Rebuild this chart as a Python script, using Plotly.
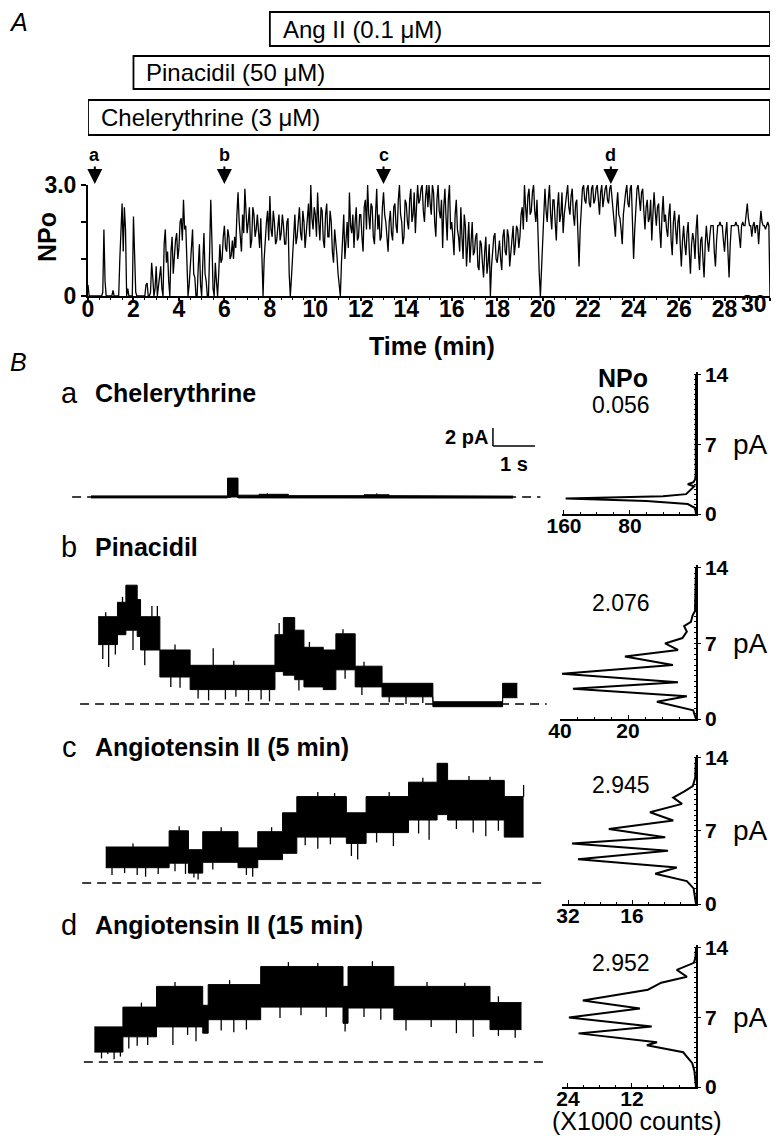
import plotly.graph_objects as go

W, H = 781, 1146
OFF = 8                          # page body margin of the browser
FW, FH = W - OFF, H - 2 * OFF    # figure size so the page fits the window
FONT = "Liberation Sans, Arial, sans-serif"

# ---------------- Panel A: NPo vs time (min) ----------------
# readings at whole tenths of a minute (t = 0.0, 0.1, ... 30.0)
npo_values = [
    0.3, 0, 0, 0, 0, 0, 0, 1.8, 0, 0,
    0, 0.15, 0, 0, 1.0, 2.5, 2.4, 0, 0, 0,
    2.15, 0.1, 0, 0, 0, 0, 0.35, 0, 0.9, 0,
    0.8, 0.3, 0.8, 0, 1.8, 1.2, 0, 1.6, 1.1, 1.7,
    1.3, 2.1, 2.6, 1.9, 0, 0.8, 1.8, 0.5, 0, 1.4,
    0, 1.7, 0.4, 0, 2.6, 0.2, 0.9, 0, 1.4, 1.0,
    1.9, 1.2, 1.6, 1.1, 1.0, 1.3, 2.8, 1.6, 2.2, 2.9,
    1.7, 2.4, 1.5, 2.2, 1.8, 1.6, 2.1, 0, 1.6, 2.3,
    2.7, 1.6, 2.0, 1.5, 2.2, 1.7, 1.9, 1.4, 2.1, 0,
    1.2, 2.2, 1.6, 2.4, 1.5, 2.0, 1.7, 2.5, 3.0, 1.8,
    2.2, 2.8, 1.5, 2.3, 1.3, 2.5, 1.6, 2.0, 0.9, 1.5,
    0.6, 0, 1.4, 1.0, 2.0, 2.8, 1.7, 1.3, 2.4, 1.6,
    2.2, 1.2, 2.6, 3.0, 1.8, 2.4, 1.4, 2.9, 2.2, 1.6,
    2.8, 2.0, 1.2, 2.3, 1.5, 2.5, 1.7, 3.0, 2.0, 1.6,
    2.5, 1.8, 2.9, 2.2, 1.7, 3.0, 2.6, 3.0, 2.0, 3.0,
    3.0, 2.2, 2.8, 1.6, 3.0, 2.1, 1.3, 2.9, 1.5, 3.0,
    2.0, 1.1, 2.6, 1.6, 2.4, 1.0, 1.9, 1.3, 0.9, 2.0,
    1.2, 1.7, 0.7, 1.4, 0.5, 1.6, 0.9, 0, 1.2, 1.7,
    0.9, 1.5, 0.7, 1.8, 1.1, 1.6, 1.2, 1.9, 1.4, 1.8,
    1.6, 2.4, 3.0, 2.0, 2.9, 2.3, 3.0, 2.0, 1.3, 0,
    1.6, 2.9, 2.0, 3.0, 1.8, 2.6, 1.5, 2.8, 2.2, 1.7,
    2.5, 3.0, 2.2, 2.9, 1.9, 2.6, 0.8, 2.4, 3.0, 2.5,
    3.0, 2.4, 3.0, 2.6, 3.0, 2.2, 3.0, 2.7, 3.0, 2.5,
    3.0, 2.3, 1.6, 2.8, 2.1, 1.4, 2.6, 3.0, 2.4, 3.0,
    1.0, 2.6, 3.0, 2.3, 2.9, 1.8, 2.6, 2.1, 1.5, 2.8,
    1.9, 2.5, 1.3, 2.7, 2.2, 1.6, 2.5, 1.1, 2.3, 1.4,
    2.2, 0.8, 1.9, 1.1, 2.0, 0.6, 1.7, 1.0, 2.2, 0.7,
    1.6, 0.5, 1.9, 1.2, 1.9, 1.9, 0.8, 1.9, 2.0, 1.9,
    1.2, 2.0, 0.5, 1.9, 1.9, 2.0, 1.9, 1.3, 2.0, 1.9,
    2.5, 1.9, 1.6, 2.0, 1.9, 1.4, 2.3, 1.9, 1.8, 2.0,
    0,
]
# readings between them (t = 0.05, 0.15, ... 29.95)
npo_half_values = [
    0, 0, 0, 0, 0, 0, 0.1, 0.4, 0, 0,
    0, 0, 0, 0, 2.0, 1.2, 1.8, 0.2, 0, 0,
    1.0, 0, 0, 0, 0, 0.3, 0, 0.1, 0.5, 0.2,
    0, 0.6, 0.2, 1.4, 0.9, 0.4, 1.2, 0.6, 1.5, 1.0,
    2.0, 1.5, 1.8, 0.9, 0.3, 1.4, 0.6, 0, 0.8, 0.3,
    0.9, 0.6, 0, 1.2, 1.5, 0, 0.4, 0.6, 0.9, 1.6,
    1.3, 1.8, 1.0, 1.5, 1.6, 2.2, 2.0, 1.2, 1.7, 2.1,
    2.0, 1.3, 2.4, 1.6, 2.2, 1.3, 0.8, 1.0, 2.0, 1.5,
    1.8, 2.3, 1.4, 2.0, 1.5, 2.2, 1.4, 2.0, 0.6, 0.5,
    1.8, 1.4, 2.0, 1.7, 2.3, 1.3, 2.2, 1.6, 2.1, 2.4,
    1.6, 2.0, 2.4, 1.5, 2.2, 1.6, 2.3, 1.2, 1.8, 1.1,
    0.3, 0.9, 2.2, 1.6, 1.3, 1.9, 2.2, 2.0, 1.5, 2.2,
    1.6, 2.4, 1.8, 2.2, 2.5, 1.6, 2.2, 1.8, 1.5, 2.4,
    2.2, 1.6, 2.0, 1.7, 2.4, 1.9, 2.6, 2.2, 1.4, 2.6,
    2.0, 2.6, 2.0, 2.8, 2.4, 2.5, 2.9, 2.3, 2.7, 2.4,
    2.5, 3.0, 2.0, 2.6, 2.3, 2.6, 2.4, 2.1, 2.6, 1.8,
    1.6, 2.2, 1.8, 1.2, 1.6, 2.2, 0.8, 2.0, 1.5, 1.1,
    1.6, 0.8, 1.5, 0.9, 1.2, 0.6, 1.4, 0.8, 1.6, 1.0,
    1.3, 1.0, 1.6, 1.2, 1.8, 0.8, 1.7, 1.1, 1.9, 1.3,
    2.2, 1.8, 2.4, 2.7, 2.2, 2.8, 2.3, 2.6, 0.6, 0.8,
    2.2, 2.3, 2.6, 2.2, 2.6, 2.0, 2.4, 2.0, 2.8, 2.2,
    2.8, 2.4, 2.7, 2.2, 2.5, 1.7, 1.8, 2.9, 2.6, 2.9,
    2.5, 2.9, 2.5, 2.9, 2.6, 2.8, 2.4, 2.9, 2.6, 2.9,
    2.6, 2.0, 2.4, 2.2, 1.8, 2.2, 2.8, 2.5, 2.9, 2.0,
    1.8, 2.9, 2.5, 2.8, 2.3, 2.4, 2.0, 2.6, 2.2, 2.3,
    2.4, 1.8, 2.2, 2.0, 1.8, 2.2, 1.5, 2.0, 1.8, 2.0,
    1.4, 1.5, 1.4, 1.7, 1.2, 1.4, 1.5, 1.8, 1.2, 1.5,
    1.0, 1.4, 1.5, 1.6, 1.9, 1.2, 1.5, 1.9, 1.9, 1.5,
    1.7, 1.2, 1.4, 1.9, 1.9, 1.9, 1.5, 1.9, 1.9, 2.2,
    2.1, 1.9, 1.9, 1.7, 1.9, 1.9, 2.0, 1.9, 1.9, 1.9,
]
x_ticks_min = list(range(0, 31, 2))

drug_names = ["Chelerythrine (3 \u03bcM)", "Pinacidil (50 \u03bcM)", "Ang II (0.1 \u03bcM)"]
drug_start = [0.0, 2.0, 8.0]
drug_end = 30.0

sample_labels = ["a", "b", "c", "d"]
sample_times = [0.3, 6.0, 13.0, 23.0]

# ---------------- Panel B: current traces (time s, current pA) ----------------
a_seg_t = [0.5, 3.75, 4.0, 4.5, 5.2, 7.0, 7.6, 9.5]
a_end = 10.55
a_hi = [0.12, 2.1, 0.2, 0.3, 0.15, 0.25, 0.15, 0.1]
a_lo = [-0.1, 0.0, -0.1, -0.05, -0.12, -0.05, -0.12, -0.12]
a_dn = []
a_up = [(4.7, 0.4), (7.3, 0.4)]

b_seg_t = [0.67, 1.13, 1.33, 1.60, 1.68, 2.14, 2.86, 4.88, 5.08, 5.35, 5.57, 6.03, 6.33, 6.79, 7.43, 8.64, 10.30]
b_end = 10.65
b_hi = [9.7, 11.3, 13.2, 11.6, 9.7, 6.0, 4.3, 7.7, 9.6, 8.2, 6.3, 6.0, 7.8, 4.2, 2.3, 0.25, 2.3]
b_lo = [6.6, 7.7, 8.2, 7.5, 6.0, 3.0, 1.6, 3.6, 3.2, 2.7, 1.9, 1.6, 3.8, 1.9, 0.8, -0.3, 0.7]
b_dn = [(0.78, 5.0), (0.92, 4.1), (1.08, 5.5), (1.50, 6.0), (1.78, 4.3), (2.40, 1.9), (2.62, 1.8),
        (3.05, 0.6), (3.30, 0.4), (3.70, 0.5), (3.95, 0.8), (4.25, 0.3), (4.55, 0.5), (4.75, 0.3),
        (5.45, 1.5), (6.55, 2.8), (6.95, 1.0), (7.60, 0.2), (8.0, 0.0), (8.4, 0.1)]
b_up = [(0.85, 10.2), (1.25, 11.9), (1.95, 10.9), (2.08, 10.9), (2.5, 6.6), (3.41, 6.2), (3.9, 4.8),
        (4.98, 9.0), (5.7, 6.9), (6.5, 8.3), (7.0, 4.7)]

c_seg_t = [0.85, 2.36, 2.82, 3.16, 4.00, 4.47, 5.06, 5.40, 6.58, 7.05, 8.06, 8.74, 8.99, 10.34]
c_end = 10.80
c_hi = [4.0, 5.8, 3.7, 5.7, 3.9, 5.7, 7.8, 9.6, 7.8, 9.6, 11.2, 13.3, 11.4, 9.6]
c_lo = [1.7, 2.2, 1.1, 2.3, 1.7, 2.6, 3.3, 5.1, 4.4, 5.6, 7.0, 7.6, 7.0, 5.1]
c_dn = [(1.0, 0.9), (1.3, 1.1), (1.6, 0.9), (1.8, 0.7), (2.1, 1.0), (2.5, 1.3), (2.75, 1.0),
        (2.95, 0.6), (3.05, 0.4), (3.4, 1.5), (4.2, 0.9), (4.35, 0.7), (5.6, 4.2), (5.9, 3.8),
        (6.2, 4.3), (6.7, 3.0), (6.85, 2.6), (7.3, 4.5), (7.7, 4.1), (8.3, 5.5), (8.55, 4.8),
        (9.2, 6.0), (9.6, 5.6), (9.9, 5.2), (10.2, 5.8)]
c_up = [(1.5, 4.4), (2.6, 6.3), (3.6, 6.2), (4.8, 6.2), (5.9, 10.1), (6.3, 10.0), (7.6, 10.1),
        (8.4, 11.7), (9.5, 11.9), (10.0, 11.8), (10.80, 10.9)]

d_seg_t = [0.58, 1.26, 2.06, 3.16, 3.29, 4.54, 6.50, 6.62, 7.71, 10.00]
d_end = 10.75
d_hi = [3.9, 6.1, 8.4, 6.3, 8.6, 10.6, 8.4, 10.6, 8.4, 6.6]
d_lo = [1.1, 2.8, 3.9, 3.2, 4.7, 6.1, 4.3, 6.0, 4.7, 3.6]
d_dn = [(0.75, 0.4), (0.9, 0.9), (1.05, 0.3), (1.2, 0.6), (1.4, 1.5), (1.6, 1.8), (1.85, 1.9),
        (2.45, 1.9), (2.8, 3.0), (3.0, 2.3), (3.6, 3.5), (3.9, 3.3), (4.2, 3.6), (5.0, 4.9),
        (5.5, 5.2), (6.1, 5.0), (6.55, 3.4), (7.0, 5.0), (7.4, 4.7), (8.0, 3.5), (8.6, 3.9),
        (9.2, 3.2), (9.6, 2.8), (10.2, 2.9), (10.6, 2.7)]
d_up = [(1.7, 6.6), (2.5, 8.9), (3.8, 9.1), (5.2, 11.1), (5.9, 11.0), (7.2, 11.2), (8.5, 8.9),
        (9.4, 8.8), (10.2, 7.3)]

trace_titles = ["Chelerythrine", "Pinacidil", "Angiotensin II (5 min)", "Angiotensin II (15 min)"]
dash_start = [0.05, 0.24, 0.29, 0.33]
dash_end = [11.2, 11.35, 11.35, 11.35]

# ---------------- Panel B: amplitude histograms (pA vs x1000 counts) ----------------
hist_a_pa = [0, 0.6, 1.0, 1.3, 1.55, 1.8, 2.0, 2.5, 2.8, 3.0, 3.2, 3.5, 4.0, 14]
hist_a_cnt = [0, 1, 10, 60, 158, 40, 12, 6, 2, 10, 3, 1, 0.3, 0]
hist_b_pa = [0, 0.8, 1.6, 2.1, 2.8, 3.4, 4.2, 5.0, 5.8, 6.4, 7.0, 7.5, 8.1, 8.6, 9.0, 9.6, 10.0, 14]
hist_b_cnt = [0, 0.8, 11.5, 2.7, 36.2, 5.3, 39.4, 6.8, 20.9, 5.3, 9.1, 4, 2.7, 3.5, 1.5, 1.0, 0.3, 0]
hist_c_pa = [0, 1.5, 2.2, 2.9, 3.5, 4.3, 5.1, 5.8, 6.4, 7.2, 8.0, 8.8, 9.6, 10.2, 10.8, 11.3, 12.1, 14]
hist_c_cnt = [0, 0.6, 2.3, 10.2, 4.8, 29.5, 7.0, 31, 7.7, 21.8, 5.7, 11.5, 3.5, 5.7, 2.9, 0.8, 0.2, 0]
hist_d_pa = [0, 1.6, 2.4, 3.5, 4.2, 4.5, 5.4, 6.1, 7.0, 7.9, 8.7, 9.8, 10.5, 11.1, 11.8, 12.5, 13, 14]
hist_d_cnt = [0, 0.3, 0.7, 2.4, 9.2, 7.3, 22, 8.3, 23.8, 10.5, 21.2, 9.0, 6.5, 1.7, 3.6, 0.4, 0.1, 0]

npo_text = ["0.056", "2.076", "2.945", "2.952"]
hist_xticks = [[160, 80], [40, 20], [32, 16], [24, 12]]
hist_pa_ticks = [0, 7, 14]


# ---------------- layout geometry (window pixels) ----------------
def xp(px):
    return (px - OFF) / FW


def yp(py):
    return 1 - (py - OFF) / FH


T0_PX, PX_PER_S, PX_PER_PA = 70, 42, 9
TR_X_DOM = (60, 560)
tr_base = [497, 704, 883, 1062]
tr_top = [420, 575, 755, 955]
tr_bot = [512, 715, 895, 1075]
label_y = [393, 547, 747, 925]

hist_left = [562, 560, 562, 562]
hist_xmax = [162.4, 40.0, 33.5, 25.1]
hist_zero = [514, 719, 904, 1087]
hist_pxpa = [9.93, 10.79, 10.43, 9.93]
HIST_YMAX = 14.3

fig = go.Figure()

# interleave the two reading series in time order
npo_t, npo_y = [], []
for i, v in enumerate(npo_values):
    npo_t.append(round(i * 0.1, 2))
    npo_y.append(v)
    if i < len(npo_half_values):
        npo_t.append(round(i * 0.1 + 0.05, 2))
        npo_y.append(npo_half_values[i])

fig.add_trace(go.Scatter(x=npo_t, y=npo_y, mode="lines",
                         line=dict(color="black", width=1.3),
                         xaxis="x", yaxis="y", hoverinfo="skip"))


def step_xy(seg_t, end, vals):
    xs, ys = [], []
    bounds = list(seg_t[1:]) + [end]
    for t0, t1, v in zip(seg_t, bounds, vals):
        xs += [t0, t1]
        ys += [v, v]
    return xs, ys


def level_at(seg_t, vals, t):
    idx = 0
    for i, s in enumerate(seg_t):
        if s <= t:
            idx = i
    return vals[idx]


traces_B = [
    (a_seg_t, a_end, a_hi, a_lo, a_dn, a_up),
    (b_seg_t, b_end, b_hi, b_lo, b_dn, b_up),
    (c_seg_t, c_end, c_hi, c_lo, c_dn, c_up),
    (d_seg_t, d_end, d_hi, d_lo, d_dn, d_up),
]
hists = [(hist_a_pa, hist_a_cnt), (hist_b_pa, hist_b_cnt), (hist_c_pa, hist_c_cnt), (hist_d_pa, hist_d_cnt)]

layout_axes = {}
for i, (seg_t, end, hi, lo, dn, up) in enumerate(traces_B):
    n = i + 2
    xa, ya = f"x{n}", f"y{n}"
    fig.add_trace(go.Scatter(x=[dash_start[i], dash_end[i]], y=[0, 0], mode="lines",
                             line=dict(color="black", width=1.5, dash="9px,6px"),
                             xaxis=xa, yaxis=ya, hoverinfo="skip"))
    xl, yl = step_xy(seg_t, end, lo)
    xh, yh = step_xy(seg_t, end, hi)
    fig.add_trace(go.Scatter(x=xl, y=yl, mode="lines", line=dict(color="black", width=1),
                             xaxis=xa, yaxis=ya, hoverinfo="skip"))
    fig.add_trace(go.Scatter(x=xh, y=yh, mode="lines", line=dict(color="black", width=1),
                             fill="tonexty", fillcolor="black", xaxis=xa, yaxis=ya, hoverinfo="skip"))
    sx, sy = [], []
    for t, v in dn:
        sx += [t, t, None]
        sy += [level_at(seg_t, lo, t), v, None]
    for t, v in up:
        sx += [t, t, None]
        sy += [level_at(seg_t, hi, t), v, None]
    if sx:
        fig.add_trace(go.Scatter(x=sx, y=sy, mode="lines", line=dict(color="black", width=1.3),
                                 xaxis=xa, yaxis=ya, hoverinfo="skip", connectgaps=False))
    layout_axes[f"xaxis{n}"] = dict(domain=[xp(TR_X_DOM[0]), xp(TR_X_DOM[1])],
                                    range=[(TR_X_DOM[0] - T0_PX) / PX_PER_S, (TR_X_DOM[1] - T0_PX) / PX_PER_S],
                                    visible=False, anchor=ya, automargin=False)
    layout_axes[f"yaxis{n}"] = dict(domain=[yp(tr_bot[i]), yp(tr_top[i])],
                                    range=[(tr_base[i] - tr_bot[i]) / PX_PER_PA, (tr_base[i] - tr_top[i]) / PX_PER_PA],
                                    visible=False, anchor=xa, automargin=False)

    m = i + 6
    hxa, hya = f"x{m}", f"y{m}"
    pa, cnt = hists[i]
    fig.add_trace(go.Scatter(x=cnt, y=pa, mode="lines", line=dict(color="black", width=2),
                             xaxis=hxa, yaxis=hya, hoverinfo="skip"))
    top_px = hist_zero[i] - HIST_YMAX * hist_pxpa[i]
    layout_axes[f"xaxis{m}"] = dict(domain=[xp(hist_left[i]), xp(696)], range=[hist_xmax[i], 0],
                                    anchor=hya, showline=True, linecolor="black", linewidth=1.5,
                                    ticks="inside", ticklen=4, tickwidth=1.2, tickcolor="black",
                                    tickvals=hist_xticks[i], tickfont=dict(size=21, weight="bold"),
                                    ticklabelstandoff=-8,
                                    showgrid=False, zeroline=False, automargin=False,
                                    minor=dict(dtick=hist_xticks[i][1] / 4, ticks="inside", ticklen=2,
                                               tickcolor="black", tickwidth=1))
    layout_axes[f"yaxis{m}"] = dict(domain=[yp(hist_zero[i]), yp(top_px)], range=[0, HIST_YMAX],
                                    anchor=hxa, side="right", showline=True, linecolor="black", linewidth=1.5,
                                    ticks="outside", ticklen=3, tickwidth=1.2, tickcolor="black",
                                    tickvals=hist_pa_ticks, tickfont=dict(size=21, weight="bold"),
                                    showgrid=False, zeroline=False, automargin=False,
                                    minor=dict(dtick=0.5, ticks="inside", ticklen=2, tickcolor="black", tickwidth=1))

SB_T, SB_Y, SB_PA, SB_S = 10.07, 5.67, 2, 1
shapes = [
    dict(type="line", xref="x2", yref="y2", x0=SB_T, x1=SB_T, y0=SB_Y, y1=SB_Y + SB_PA,
         line=dict(color="black", width=1.5)),
    dict(type="line", xref="x2", yref="y2", x0=SB_T, x1=SB_T + SB_S, y0=SB_Y, y1=SB_Y,
         line=dict(color="black", width=1.5)),
]

box_px = [(100, 135), (56, 89), (12, 46)]
annotations = []
for name, start, (ytop, ybot) in zip(drug_names, drug_start, box_px):
    shapes.append(dict(type="rect", xref="x", yref="paper", x0=start, x1=drug_end,
                       y0=yp(ybot), y1=yp(ytop), line=dict(color="black", width=1.8)))
    annotations.append(dict(text=name, x=start, y=yp((ytop + ybot) / 2), xref="x", yref="paper",
                            xanchor="left", yanchor="middle", xshift=11, showarrow=False,
                            font=dict(size=24)))

for lab, t in zip(sample_labels, sample_times):
    annotations.append(dict(text=f"<b>{lab}</b>", x=t, y=yp(184), xref="x", yref="paper",
                            showarrow=True, ax=0, ay=-29, arrowhead=2, arrowsize=1.5,
                            arrowwidth=2, arrowcolor="black", font=dict(size=18)))

# last time tick label sits just inside the right edge
last_tick = x_ticks_min[-1]
annotations.append(dict(text=f"<b>{last_tick}</b>", x=last_tick, y=yp(304), xref="x", yref="paper",
                        xanchor="center", yanchor="middle", xshift=-16, showarrow=False,
                        font=dict(size=23)))


def ann(text, x, y, size, weight="normal", style="normal", xanchor="center", angle=0):
    return dict(text=text, x=xp(x), y=yp(y), xref="paper", yref="paper", showarrow=False,
                xanchor=xanchor, yanchor="middle", textangle=angle,
                font=dict(size=size, weight=weight, style=style))


annotations += [
    ann("A", 18, 22, 25, style="italic"),
    ann("NPo", 47, 237, 25, weight="bold", angle=-90),
    ann("Time (min)", 432, 346, 25, weight="bold"),
    ann("B", 18, 362, 25, style="italic"),
    ann("NPo", 623, 378, 25, weight="bold"),
    ann("(X1000 counts)", 637, 1121, 25),
    ann("2 pA", 490, 437, 20, weight="bold", xanchor="right"),
    ann("1 s", 514, 464, 20, weight="bold"),
]
for i in range(4):
    annotations.append(ann(sample_labels[i], 69, label_y[i], 29))
    annotations.append(ann(trace_titles[i], 93, label_y[i], 25, weight="bold", xanchor="left"))
    annotations.append(ann(npo_text[i], 621, [405, 603, 785, 963][i], 23))
    annotations.append(ann("pA", 750, hist_zero[i] - 7 * hist_pxpa[i], 28))

fig.update_layout(
    template="none",
    width=FW, height=FH, margin=dict(l=0, r=0, t=0, b=0, pad=0), autosize=False,
    paper_bgcolor="white", plot_bgcolor="white", showlegend=False,
    font=dict(family=FONT, color="black"),
    xaxis=dict(domain=[xp(88), xp(770)], range=[0, 30], anchor="y", showline=True,
               linecolor="black", linewidth=2, ticks="outside", ticklen=3, tickwidth=1.5,
               tickcolor="black", tickvals=x_ticks_min,
               ticktext=[str(v) for v in x_ticks_min[:-1]] + [""],
               tickfont=dict(size=23, weight="bold"),
               ticklabelstandoff=-12,
               showgrid=False, zeroline=False, automargin=False,
               minor=dict(dtick=0.5, ticks="outside", ticklen=2, tickcolor="black", tickwidth=1)),
    yaxis=dict(domain=[yp(296), yp(185)], range=[0, 3], anchor="x", showline=True,
               linecolor="black", linewidth=2, ticks="outside", ticklen=5, tickwidth=1.5,
               tickcolor="black", tickvals=[0, 1, 2, 3], ticktext=["0", "", "", "3.0"],
               tickfont=dict(size=23, weight="bold"), showgrid=False, zeroline=False, automargin=False),
    shapes=shapes,
    annotations=annotations,
    **layout_axes,
)

fig.write_html("out.html")
